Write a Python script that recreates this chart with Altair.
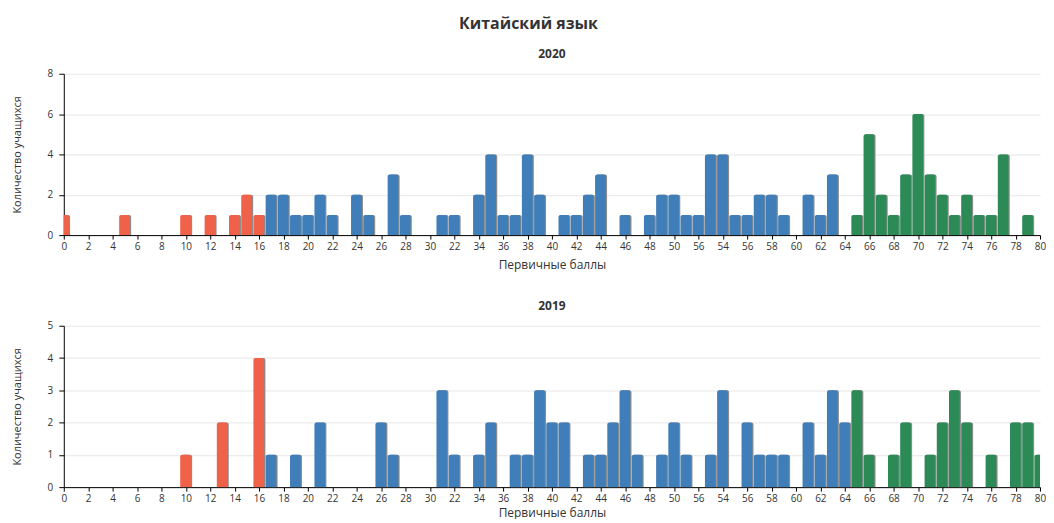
import altair as alt
import pandas as pd

# ---- data ----
scores_2020 = [0, 5, 10, 12, 14, 15, 16, 17, 18, 19, 20, 21, 22, 24, 25, 27, 28, 31, 32,
               34, 35, 36, 37, 38, 39, 41, 42, 43, 44, 46, 48, 49, 50, 51, 52, 53, 54,
               55, 56, 57, 58, 59, 61, 62, 63, 65, 66, 67, 68, 69, 70, 71, 72, 73, 74,
               75, 76, 77, 79]
counts_2020 = [1, 1, 1, 1, 1, 2, 1, 2, 2, 1, 1, 2, 1, 2, 1, 3, 1, 1, 1,
               2, 4, 1, 1, 4, 2, 1, 1, 2, 3, 1, 1, 2, 2, 1, 1, 4, 4,
               1, 1, 2, 2, 1, 2, 1, 3, 1, 5, 2, 1, 3, 6, 3, 2, 1, 2,
               1, 1, 4, 1]

scores_2019 = [10, 13, 16, 17, 19, 21, 26, 27, 31, 32, 34, 35, 37, 38, 39, 40, 41, 43,
               44, 45, 46, 47, 49, 50, 51, 53, 54, 56, 57, 58, 59, 61, 62, 63, 64, 65,
               66, 68, 69, 71, 72, 73, 74, 76, 78, 79, 80]
counts_2019 = [1, 2, 4, 1, 1, 2, 2, 1, 3, 1, 1, 2, 1, 1, 3, 2, 2, 1,
               1, 2, 3, 1, 1, 2, 1, 1, 3, 2, 1, 1, 1, 2, 1, 3, 2, 3,
               1, 1, 2, 1, 2, 3, 2, 1, 2, 2, 1]

x_tick_values = [0, 2, 4, 6, 8, 10, 12, 14, 16, 18, 20, 22, 24, 26, 28, 30, 32, 34, 36, 38,
                 40, 42, 44, 46, 48, 50, 52, 54, 56, 58, 60, 62, 64, 66, 68, 70, 72, 74,
                 76, 78, 80]
x_tick_labels = ["0", "2", "4", "6", "8", "10", "12", "14", "16", "18", "20", "22", "24",
                 "26", "28", "30", "22", "34", "36", "38", "40", "42", "44", "46", "48",
                 "50", "56", "54", "56", "58", "60", "62", "64", "66", "68", "70", "72",
                 "74", "76", "78", "80"]

y_ticks_2020 = [0, 2, 4, 6, 8]
y_ticks_2019 = [0, 1, 2, 3, 4, 5]

LOW_MAX = 16
MID_MAX = 64
group_names = ["low", "mid", "high"]
group_colors = ["#EF6149", "#3F7EB8", "#2B8A55"]

FONT = "Open Sans"

# label expression reproducing the reference's tick labels
expr = "datum.label"
for v, lab in zip(x_tick_values, x_tick_labels):
    if lab != str(v):
        expr = f"datum.value == {v} ? '{lab}' : ({expr})"


def panel(year, scores, counts, y_ticks, x_title_pad):
    df = pd.DataFrame({"score": scores, "count": counts})
    base = alt.Chart(df).transform_calculate(
        group=f"datum.score <= {LOW_MAX} ? 'low' : (datum.score <= {MID_MAX} ? 'mid' : 'high')",
        x0="datum.score - 0.46",
        x1="datum.score + 0.42",
        s0="datum.score - 0.38",
        s1="datum.score + 0.52",
    )
    xscale = alt.Scale(domain=[0, 80], nice=False, zero=False)
    yscale = alt.Scale(domain=[y_ticks[0], y_ticks[-1]], nice=False)
    xaxis = alt.Axis(
        title="Первичные баллы", values=x_tick_values, labelExpr=expr, grid=False,
        labelOverlap=False, labelFlush=False,
        domainColor="#000000", tickColor="#000000", labelColor="#333333",
        titleColor="#333333", labelFontSize=10, titleFontSize=12, titleFontWeight="normal",
        labelPadding=2, titlePadding=x_title_pad, tickSize=4,
    )
    yaxis = alt.Axis(
        title="Количество учащихся", values=y_ticks, grid=True, gridColor="#e6e6e6",
        labelOverlap=False, labelFlush=False,
        domainColor="#000000", tickColor="#000000", labelColor="#333333",
        titleColor="#333333", labelFontSize=10, titleFontSize=11, titleFontWeight="normal",
        labelPadding=6, titlePadding=25, tickSize=5,
    )
    shadow = base.mark_bar(color="#8c8c8c", cornerRadiusTopLeft=2, cornerRadiusTopRight=2,
                           clip=True).encode(
        x=alt.X("s0:Q", scale=xscale, axis=xaxis),
        x2="s1:Q",
        y=alt.Y("count:Q", scale=yscale, axis=yaxis),
        y2=alt.datum(0),
    )
    bars = base.mark_bar(cornerRadiusTopLeft=2, cornerRadiusTopRight=2, clip=True).encode(
        x=alt.X("x0:Q", scale=xscale, axis=xaxis),
        x2="x1:Q",
        y=alt.Y("count:Q", scale=yscale, axis=yaxis),
        y2=alt.datum(0),
        color=alt.Color("group:N", scale=alt.Scale(domain=group_names, range=group_colors),
                        legend=None),
    )
    return alt.layer(shadow, bars).properties(
        width=980, height=162,
        title=alt.TitleParams(year, fontSize=12, fontWeight="bold", color="#333333",
                              anchor="middle", offset=8, font=FONT),
    )


chart = alt.vconcat(
    panel("2020", scores_2020, counts_2020, y_ticks_2020, 9),
    panel("2019", scores_2019, counts_2019, y_ticks_2019, 4),
    spacing=29,
).properties(
    padding={"left": 3, "right": 0, "top": 7, "bottom": 0},
    title=alt.TitleParams("Китайский язык", fontSize=16, fontWeight="bold", color="#333333",
                          anchor="middle", offset=16, font=FONT),
).configure(font=FONT).configure_view(stroke=None).configure_axis(
    labelFont=FONT, titleFont=FONT
)

chart.save("out.html", embed_options={"renderer": "svg", "actions": False})
